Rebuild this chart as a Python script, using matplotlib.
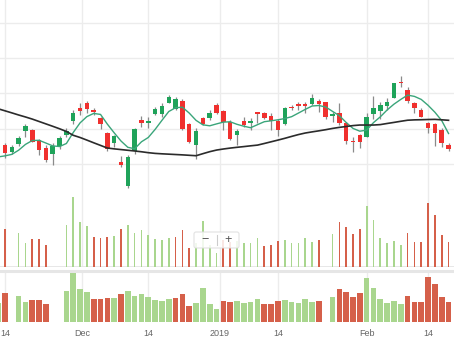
import numpy as np
import pandas as pd
import matplotlib
matplotlib.use("Agg")
import matplotlib.pyplot as plt
from matplotlib.patches import FancyBboxPatch

# ---- daily OHLC -------------------------------------------------------------
open_ = [99.15, 102.69, 101.70, 102.83, 104.67, 104.81, 103.39, 102.30, 101.37, 102.55,
         104.10, 106.12, 107.96, 108.58, 107.64, 106.46, 104.43, 102.93, 100.28, 96.89,
         101.88, 106.22, 105.76, 107.07, 107.07, 108.67, 107.78, 108.95, 105.61, 102.69,
         106.46, 106.46, 108.34, 107.49, 105.98, 104.10, 106.08, 105.76, 107.35, 107.25,
         106.79, 106.12, 105.61, 108.02, 108.48, 108.48, 108.48, 108.95, 108.72, 106.79,
         107.25, 105.84, 103.32, 104.10, 103.86, 107.07, 107.54, 108.24, 109.37, 111.55,
         110.46, 108.58, 107.64, 105.76, 105.61, 104.81, 102.69]
high = [101.98, 103.01, 102.69, 103.96, 105.61, 104.91, 103.49, 102.69, 102.93, 103.96,
        105.13, 107.64, 108.58, 108.91, 107.88, 106.69, 104.57, 104.10, 101.13, 101.27,
        105.13, 106.79, 106.69, 108.10, 108.58, 109.76, 109.52, 109.15, 105.76, 105.05,
        106.65, 107.64, 108.58, 107.64, 106.22, 104.91, 106.60, 106.46, 107.40, 107.40,
        107.17, 106.32, 107.99, 108.34, 108.81, 108.81, 109.86, 109.15, 108.81, 107.40,
        108.67, 105.98, 103.86, 104.24, 107.17, 109.62, 108.81, 109.37, 111.50, 112.44,
        110.85, 108.81, 107.92, 105.98, 105.76, 105.05, 102.93]
low = [98.87, 100.81, 101.37, 102.59, 103.78, 103.07, 101.27, 100.33, 99.86, 102.08,
       103.86, 105.66, 106.93, 107.17, 106.93, 104.95, 101.88, 102.36, 99.53, 96.65,
       101.37, 105.27, 105.05, 106.93, 106.60, 108.58, 107.64, 104.81, 102.93, 100.66,
       105.51, 106.22, 107.07, 104.81, 103.39, 102.69, 105.27, 104.81, 105.76, 106.32,
       104.81, 103.96, 105.51, 107.64, 107.64, 107.17, 108.34, 107.40, 106.32, 105.98,
       105.51, 102.79, 101.74, 102.22, 103.78, 106.32, 106.32, 107.64, 109.29, 110.93,
       108.58, 107.17, 106.58, 104.43, 102.55, 102.45, 101.88]
close = [101.70, 101.51, 102.36, 103.63, 105.37, 103.15, 101.98, 100.57, 102.55, 103.63,
         104.67, 107.25, 107.54, 107.78, 107.35, 105.66, 102.08, 103.96, 99.82, 101.03,
         104.91, 105.84, 106.12, 107.78, 108.20, 109.43, 109.15, 104.95, 103.15, 104.71,
         105.66, 107.25, 107.28, 105.98, 103.49, 104.71, 105.47, 106.12, 107.07, 106.46,
         106.08, 104.74, 107.85, 107.89, 108.24, 108.27, 109.29, 108.48, 106.60, 107.07,
         105.76, 103.25, 103.11, 103.04, 106.60, 107.88, 108.34, 108.81, 111.41, 111.45,
         108.95, 107.88, 106.69, 105.05, 104.43, 102.93, 102.08]

# ---- volume (millions); gaps are sessions without a reported figure ----------
volume = [3.74, 5.74, np.nan, 5.14, 3.94, 4.40, 4.40, 3.60, np.nan, np.nan,
          6.26, 9.86, 6.66, 6.06, 4.66, 4.60, 4.74, 4.80, 5.66, 6.20,
          5.26, 5.54, 4.94, 4.40, 4.26, 4.54, 4.74, 5.60, 3.26, 3.86,
          6.80, 3.60, 2.54, 4.26, 4.06, 4.20, 3.86, 3.94, 4.60, 3.54,
          3.66, 4.20, 4.34, 3.94, 3.86, 4.60, 4.06, 4.26, np.nan, 5.06,
          6.60, 6.00, 5.06, 5.74, 8.74, 6.86, 4.54, 3.86, 4.20, 3.66,
          5.14, 4.06, 4.06, 9.06, 7.54, 4.94, 4.06]

# ---- moving averages --------------------------------------------------------
ma_fast = [101.00, 101.15, 101.36, 101.95, 102.77, 103.32, 103.35, 102.96, 102.56, 102.47,
           102.90, 104.45, 105.81, 106.70, 107.15, 107.01, 105.64, 104.41, 103.25, 102.36,
           102.16, 103.14, 103.75, 104.89, 106.17, 107.42, 107.96, 108.03, 107.20, 106.17,
           105.54, 105.40, 105.67, 105.92, 105.97, 105.61, 105.34, 105.13, 105.56, 105.98,
           106.11, 106.25, 106.43, 106.69, 107.20, 107.72, 108.20, 108.27, 108.06, 107.44,
           106.83, 105.87, 105.03, 104.64, 104.79, 105.85, 106.67, 107.64, 108.46, 109.13,
           109.74, 109.56, 109.13, 108.30, 107.32, 106.14, 104.31]
ma_slow = [107.81, 107.52, 107.23, 106.93, 106.65, 106.35, 106.01, 105.67, 105.33, 104.98,
           104.60, 104.06, 103.75, 103.38, 103.00, 102.63, 102.26, 102.14, 102.04, 101.94,
           101.84, 101.73, 101.60, 101.50, 101.44, 101.39, 101.34, 101.29, 101.23, 101.17,
           101.46, 101.74, 101.97, 102.12, 102.25, 102.36, 102.46, 102.57, 102.67, 102.90,
           103.14, 103.38, 103.63, 103.90, 104.16, 104.38, 104.54, 104.69, 104.85, 105.03,
           105.18, 105.30, 105.43, 105.51, 105.51, 105.51, 105.57, 105.73, 105.88, 106.04,
           106.19, 106.24, 106.26, 106.29, 106.31, 106.25, 106.18]

# ---- calendar ----------------------------------------------------------------
holidays = ["2018-11-22", "2018-12-25", "2019-01-01", "2019-01-21"]
tick_dates = ["2018-11-14", "2018-12-01", "2018-12-14", "2019-01-01",
              "2019-01-14", "2019-02-01", "2019-02-14"]
tick_labels = ["14", "Dec", "14", "2019", "14", "Feb", "14"]

n = len(close)
sessions = pd.bdate_range("2018-11-13", periods=n + 10)
sessions = sessions.drop(pd.to_datetime(holidays))[:n]
x = np.arange(n)
tick_pos = np.interp(pd.to_datetime(tick_dates).asi8, sessions.asi8, x)

o, h, l, c = map(np.asarray, (open_, high, low, close))
vol = np.asarray(volume)
prev_close = np.r_[c[0], c[:-1]]

GREEN_C, RED_C = "#1fa35a", "#f0302e"
GREEN_V, RED_V = "#a9d68e", "#d5604a"
GRID = "#ececec"

W, H = 454, 341
fig = plt.figure(figsize=(W / 100, H / 100), dpi=100)
plt.rcParams["font.family"] = ["Liberation Sans", "DejaVu Sans"]


def band(top, bottom):
    ax = fig.add_axes([0, 1 - bottom / H, 1, (bottom - top) / H])
    for s in ax.spines.values():
        s.set_visible(False)
    ax.set_xlim(0.27, 66.8)
    ax.tick_params(left=False, labelleft=False, bottom=False, labelbottom=False)
    for p in tick_pos:
        ax.axvline(p, color=GRID, lw=1, zorder=0)
    return ax


# ---- price panel -------------------------------------------------------------
ax_p = band(0, 192)
ax_p.set_ylim(96.04, 123.19)
for lvl in np.arange(100, 125, 5):
    ax_p.axhline(lvl, color=GRID, lw=1, zorder=0)
up = c >= o
ax_p.vlines(x, l, h, color="#8a8a8a", lw=0.9, zorder=2)
body = np.maximum(np.abs(c - o), 0.12)
ax_p.bar(x, body, bottom=np.minimum(o, c), width=0.66,
         color=np.where(up, GREEN_C, RED_C), zorder=3, linewidth=0)
ax_p.plot(x, ma_fast, color="#3aa57a", lw=1.0, zorder=4)
ax_p.plot(x, ma_slow, color="#2b2b2b", lw=1.2, zorder=4)

# ---- volume panel ------------------------------------------------------------
vol_cols = np.where(c >= prev_close, GREEN_V, RED_V)
ax_v = band(192, 267.3)
ax_v.set_ylim(0.73, 10.55)
ax_v.axhline(0.73, color="#e3e3e3", lw=1.2, zorder=1)
ax_v.bar(x, np.nan_to_num(vol) - 0.73, bottom=0.73, width=0.25,
         color=vol_cols, linewidth=0, zorder=2)

# ---- overview strip ----------------------------------------------------------
ax_o = band(272.5, 322)
ax_o.set_ylim(0, 9.9)
ax_o.bar(x, np.nan_to_num(vol), width=0.83, color=vol_cols, linewidth=0, zorder=2)
ax_o.set_xticks(tick_pos)
ax_o.set_xticklabels(tick_labels)
ax_o.tick_params(labelbottom=True, length=0, pad=5, labelsize=6.5, labelcolor="#666666")

# separator between the volume panel and the overview strip
fig.add_artist(plt.Line2D([0, 1], [1 - 270.5 / H] * 2, color="#e6e6e6", lw=2.2,
                          transform=fig.transFigure))

# zoom buttons
ov = fig.add_axes([0, 0, 1, 1], facecolor="none")
ov.set_xlim(0, W)
ov.set_ylim(H, 0)
ov.axis("off")
ov.add_patch(FancyBboxPatch((194, 232), 45, 16, boxstyle="round,pad=0,rounding_size=2",
                            facecolor="white", edgecolor="#dddddd", lw=0.8, alpha=0.85))
ov.plot([216.5, 216.5], [235, 245], color="#cccccc", lw=0.8)
ov.text(205, 240, "\u2212", ha="center", va="center", fontsize=9, color="#555555")
ov.text(228.5, 240, "+", ha="center", va="center", fontsize=9, color="#555555")

fig.savefig("out.png", dpi=100)
